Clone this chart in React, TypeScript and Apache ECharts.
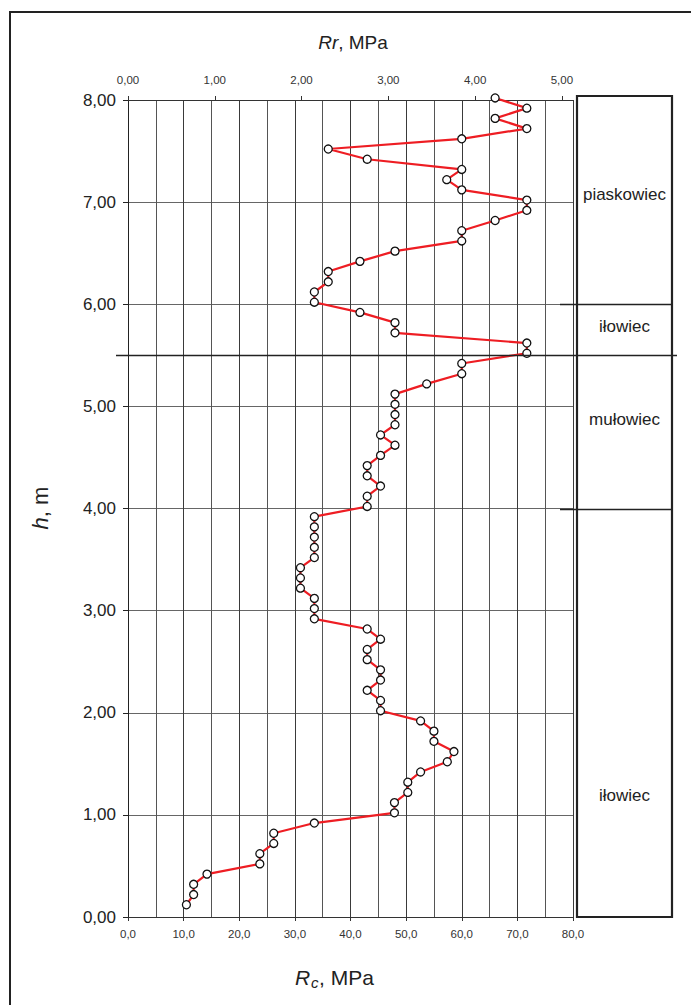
import React, { useEffect, useRef } from "react";
import * as echarts from "echarts";

// Depth h [m] (top to bottom) and compressive strength Rc [MPa]
const H: number[] = [
  8.02, 7.92, 7.82, 7.72, 7.62, 7.52, 7.42, 7.32, 7.22, 7.12,
  7.02, 6.92, 6.82, 6.72, 6.62, 6.52, 6.42, 6.32, 6.22, 6.12,
  6.02, 5.92, 5.82, 5.72, 5.62, 5.52, 5.42, 5.32, 5.22, 5.12,
  5.02, 4.92, 4.82, 4.72, 4.62, 4.52, 4.42, 4.32, 4.22, 4.12,
  4.02, 3.92, 3.82, 3.72, 3.62, 3.52, 3.42, 3.32, 3.22, 3.12,
  3.02, 2.92, 2.82, 2.72, 2.62, 2.52, 2.42, 2.32, 2.22, 2.12,
  2.02, 1.92, 1.82, 1.72, 1.62, 1.52, 1.42, 1.32, 1.22, 1.12,
  1.02, 0.92, 0.82, 0.72, 0.62, 0.52, 0.42, 0.32, 0.22, 0.12,
];
const RC: number[] = [
  66.0, 71.7, 66.0, 71.7, 60.0, 36.0, 43.0, 60.0, 57.3, 60.0,
  71.7, 71.7, 66.0, 60.0, 60.0, 48.0, 41.7, 36.0, 36.0, 33.5,
  33.5, 41.7, 48.0, 48.0, 71.7, 71.7, 60.0, 60.0, 53.7, 48.0,
  48.0, 48.0, 48.0, 45.4, 48.0, 45.4, 43.0, 43.0, 45.4, 43.0,
  43.0, 33.5, 33.5, 33.5, 33.5, 33.5, 31.0, 31.0, 31.0, 33.5,
  33.5, 33.5, 43.0, 45.4, 43.0, 43.0, 45.4, 45.4, 43.0, 45.4,
  45.4, 52.6, 55.0, 55.0, 58.6, 57.4, 52.6, 50.3, 50.3, 47.9,
  47.9, 33.5, 26.2, 26.2, 23.7, 23.7, 14.2, 11.8, 11.8, 10.5,
];

// Lithology column: layer names, top/bottom depths and label depth
const LAYER_NAMES: string[] = ["piaskowiec", "iłowiec", "mułowiec", "iłowiec"];
const LAYER_TOPS: number[] = [8.0, 6.0, 5.5, 4.0];
const LAYER_BOTTOMS: number[] = [6.0, 5.5, 4.0, 0.0];
const LAYER_LABEL_H: number[] = [7.07, 5.78, 4.87, 1.19];

// Axis ranges
const RC_MAX = 80;
const RR_MAX = 80 / 15.6; // top Rr scale

const FONT = "Liberation Sans, Arial, sans-serif";

export default function App() {
  const ref = useRef<HTMLDivElement>(null);

  useEffect(() => {
    if (!ref.current) return;
    const chart = echarts.init(ref.current, undefined, { renderer: "svg" });
    const data = H.map((h, i) => [RC[i], h]);

    const option: any = {
      animation: false,
      backgroundColor: "#fff",
      textStyle: { fontFamily: FONT },
      grid: { left: 128, right: 118, top: 100, bottom: 88, containLabel: false },
      xAxis: [
        {
          type: "value",
          position: "bottom",
          min: 0,
          max: RC_MAX,
          interval: 10,
          axisLine: { show: true, lineStyle: { color: "#333", width: 1 } },
          axisTick: { show: true, length: 4, lineStyle: { color: "#333" } },
          axisLabel: {
            color: "#333",
            fontSize: 11.5,
            margin: 11,
            fontFamily: FONT,
            formatter: (v: number) => v.toFixed(1).replace(".", ","),
          },
          splitLine: { show: true, lineStyle: { color: "#3a3a3a", width: 1 } },
          minorTick: { show: false, splitNumber: 2 },
          minorSplitLine: { show: true, lineStyle: { color: "#555", width: 1 } },
        },
        {
          type: "value",
          position: "top",
          min: 0,
          max: RR_MAX,
          interval: 1,
          axisLine: { show: true, lineStyle: { color: "#333", width: 1 } },
          axisTick: { show: true, length: 4, lineStyle: { color: "#333" } },
          axisLabel: {
            color: "#333",
            fontSize: 11.5,
            margin: 14,
            fontFamily: FONT,
            showMaxLabel: false,
            formatter: (v: number) =>
              Math.abs(v - Math.round(v)) < 1e-6 ? v.toFixed(2).replace(".", ",") : "",
          },
          splitLine: { show: false },
        },
      ],
      yAxis: {
        type: "value",
        min: 0,
        max: 8,
        interval: 1,
        axisLine: { show: true, lineStyle: { color: "#222", width: 1 } },
        axisTick: { show: true, length: 5, lineStyle: { color: "#222" } },
        axisLabel: {
          color: "#222",
          fontSize: 17,
          margin: 12,
          fontFamily: FONT,
          formatter: (v: number) => v.toFixed(2).replace(".", ","),
        },
        splitLine: { show: true, lineStyle: { color: "#666", width: 1 } },
      },
      series: [
        {
          type: "line",
          data,
          xAxisIndex: 0,
          yAxisIndex: 0,
          z: 5,
          clip: false,
          symbol: "circle",
          symbolSize: 8,
          showAllSymbol: true,
          lineStyle: { color: "#ee1d23", width: 2.2 },
          itemStyle: { color: "#fff", borderColor: "#111", borderWidth: 1.3 },
        },
      ],
    };
    chart.setOption(option);

    const yOf = (h: number) => chart.convertToPixel({ yAxisIndex: 0 }, h) as number;
    const boxL = 577;
    const boxR = 672;
    const boxTop = yOf(8) - 4;
    const boxBottom = yOf(0);

    const graphics: any[] = [
      {
        type: "rect",
        shape: { x: 10, y: 12, width: 700, height: 1010 },
        style: { fill: "none", stroke: "#222", lineWidth: 2 },
        silent: true,
      },
      {
        type: "rect",
        shape: { x: boxL, y: boxTop, width: boxR - boxL, height: boxBottom - boxTop },
        style: { fill: "none", stroke: "#222", lineWidth: 2.2 },
        silent: true,
        z: 10,
      },
    ];

    // layer boundaries
    LAYER_TOPS.forEach((t, i) => {
      if (i === 0) return;
      const y = Math.round(yOf(t)) + 0.5;
      const full = Math.abs(t - 5.5) < 1e-6;
      graphics.push({
        type: "line",
        shape: { x1: full ? 116 : 560, y1: y, x2: full ? 677 : boxR, y2: y },
        style: { stroke: "#222", lineWidth: 1.3 },
        silent: true,
        z: 10,
      });
    });

    // layer labels
    LAYER_NAMES.forEach((name, i) => {
      graphics.push({
        type: "text",
        x: (boxL + boxR) / 2,
        y: yOf(LAYER_LABEL_H[i]),
        style: {
          text: name,
          fontSize: 17,
          fontFamily: FONT,
          fill: "#222",
          align: "center",
          verticalAlign: "middle",
        },
        silent: true,
        z: 11,
      });
    });

    // titles
    graphics.push({
      type: "text",
      x: 353,
      y: 42,
      style: {
        text: "{i|Rr}, MPa",
        fontSize: 19,
        fontFamily: FONT,
        fill: "#222",
        align: "center",
        verticalAlign: "middle",
        rich: { i: { fontSize: 19, fontStyle: "italic", fontFamily: FONT, fill: "#222" } },
      },
      silent: true,
    });
    graphics.push({
      type: "text",
      x: 295,
      y: 977.5,
      style: {
        text: "R",
        fontSize: 21,
        fontStyle: "italic",
        fontFamily: FONT,
        fill: "#222",
        align: "left",
        verticalAlign: "middle",
      },
      silent: true,
    });
    graphics.push({
      type: "text",
      x: 311,
      y: 982,
      style: {
        text: "c",
        fontSize: 15,
        fontStyle: "italic",
        fontFamily: FONT,
        fill: "#222",
        align: "left",
        verticalAlign: "middle",
      },
      silent: true,
    });
    graphics.push({
      type: "text",
      x: 319,
      y: 977.5,
      style: {
        text: ", MPa",
        fontSize: 21,
        fontFamily: FONT,
        fill: "#222",
        align: "left",
        verticalAlign: "middle",
      },
      silent: true,
    });
    graphics.push({
      type: "text",
      x: 40,
      y: 508,
      rotation: Math.PI / 2,
      style: {
        text: "{i|h}, m",
        fontSize: 22,
        fontFamily: FONT,
        fill: "#222",
        align: "center",
        verticalAlign: "middle",
        rich: { i: { fontSize: 22, fontStyle: "italic", fontFamily: FONT, fill: "#222" } },
      },
      silent: true,
    });

    chart.setOption({ graphic: graphics });

    return () => chart.dispose();
  }, []);

  return (
    <div
      ref={ref}
      style={{ position: "absolute", left: 0, top: 0, width: 691, height: 1005 }}
    />
  );
}
